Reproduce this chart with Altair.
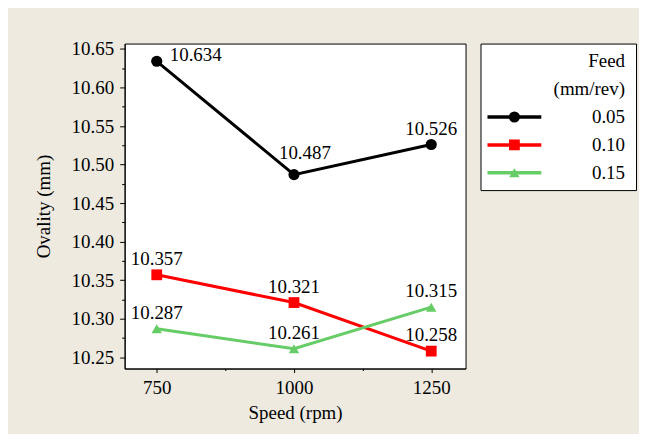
import altair as alt
import pandas as pd

speed = [750, 1000, 1250]
feeds = ["0.05", "0.10", "0.15"]
ovality_005 = [10.634, 10.487, 10.526]
ovality_010 = [10.357, 10.321, 10.258]
ovality_015 = [10.287, 10.261, 10.315]
colors = ["#000000", "#FF0000", "#66CC66"]
shapes = ["circle", "square", "triangle-up"]
x_ticks = [750, 875, 1000, 1125, 1250]
y_ticks = [10.25, 10.275, 10.30, 10.325, 10.35, 10.375, 10.40, 10.425, 10.45,
           10.475, 10.50, 10.525, 10.55, 10.575, 10.60, 10.625, 10.65]
legend_title = ["Feed", "(mm/rev)"]

FONT = "Times New Roman, Liberation Serif, DejaVu Serif, serif"
FS = 19

rows = []
for f, vals in zip(feeds, [ovality_005, ovality_010, ovality_015]):
    for s, v in zip(speed, vals):
        rows.append({"speed": s, "feed": f, "ovality": v, "label": f"{v:.3f}"})
df = pd.DataFrame(rows)

color = alt.Color("feed:N", scale=alt.Scale(domain=feeds, range=colors), legend=None)
shape = alt.Shape("feed:N", scale=alt.Scale(domain=feeds, range=shapes), legend=None)

x = alt.X("speed:Q", title="Speed (rpm)",
          scale=alt.Scale(domain=[691.5, 1312.5], nice=False, zero=False),
          axis=alt.Axis(values=x_ticks, labelExpr="datum.value % 250 == 0 ? datum.label : ''",
                        tickSize={"condition": {"test": "datum.value % 250 != 0", "value": 2}, "value": 4},
                        labelPadding=6, titlePadding=6, format="d"))
y = alt.Y("ovality:Q", title="Ovality (mm)",
          scale=alt.Scale(domain=[10.2354, 10.657], nice=False, zero=False),
          axis=alt.Axis(values=y_ticks, format=".2f",
                        labelExpr="round(datum.value*1000) % 50 == 0 ? datum.label : ''",
                        tickSize={"condition": {"test": "round(datum.value*1000) % 50 != 0", "value": 3}, "value": 5},
                        labelPadding=6, titlePadding=18))

base = alt.Chart(df).encode(x=x, y=y, color=color)
lines = base.mark_line(strokeWidth=3)
points = base.mark_point(filled=True, opacity=1).encode(
    shape=shape,
    size=alt.Size("feed:N", scale=alt.Scale(domain=feeds, range=[125, 110, 170]), legend=None))
txt = dict(font=FONT, fontSize=FS, color="black")
labels_default = base.mark_text(dy=-16, **txt).encode(text="label:N", color=alt.value("black")).transform_filter(
    "!(datum.feed == '0.05' && datum.speed != 1250)")
label_a = base.mark_text(align="left", dx=13, dy=-6, **txt).encode(text="label:N", color=alt.value("black")).transform_filter(
    "datum.feed == '0.05' && datum.speed == 750")
label_b = base.mark_text(dx=11, dy=-22, **txt).encode(text="label:N", color=alt.value("black")).transform_filter(
    "datum.feed == '0.05' && datum.speed == 1000")

main = alt.layer(lines, points, labels_default, label_a, label_b).properties(width=342, height=326)

# legend panel
leg_rows = []
for i, t in enumerate(legend_title):
    leg_rows.append({"row": i + 0.63, "feed": None, "text": t})
for j, f in enumerate(feeds):
    leg_rows.append({"row": len(legend_title) + j + 0.63, "feed": f, "text": f})
ldf = pd.DataFrame(leg_rows)

LW = 156
lx = alt.Scale(domain=[0, LW], nice=False, zero=False)
ly = alt.Scale(domain=[0, 5.25], nice=False, zero=False, reverse=True)
lbase = alt.Chart(ldf)
lrule = lbase.mark_rule(strokeWidth=3.5).encode(
    x=alt.X("x1:Q", scale=lx, axis=None), x2="x2:Q",
    y=alt.Y("row:Q", scale=ly, axis=None), color=color
).transform_filter("datum.feed != null").transform_calculate(x1="7", x2="61")
lpts = lbase.mark_point(filled=True, opacity=1).encode(
    x=alt.X("xm:Q", scale=lx, axis=None), y=alt.Y("row:Q", scale=ly, axis=None),
    color=color, shape=shape,
    size=alt.Size("feed:N", scale=alt.Scale(domain=feeds, range=[40, 45, 55]), legend=None)
).transform_filter("datum.feed != null").transform_calculate(xm="34")
ltext = lbase.mark_text(align="right", baseline="middle", **txt).encode(
    x=alt.X("xt:Q", scale=lx, axis=None), y=alt.Y("row:Q", scale=ly, axis=None), text="text:N"
).transform_calculate(xt="145")
legend = alt.layer(lrule, lpts, ltext).properties(width=LW, height=147)

chart = alt.hconcat(main, legend, spacing=15, bounds="flush").resolve_scale(
    x="independent", y="independent"
).properties(
    padding={"left": 25, "top": 30, "right": 2, "bottom": 10},
    background="#EEEAE0"
).configure_view(
    fill="white", stroke="black", strokeWidth=1
).configure_axis(
    labelFont=FONT, titleFont=FONT, labelFontSize=FS, titleFontSize=FS,
    titleFontWeight="normal", labelColor="black", titleColor="black",
    domainColor="black", tickColor="black", grid=False, labelFlush=False
)

chart.save("out.html", embed_options={"renderer": "svg", "actions": False})
